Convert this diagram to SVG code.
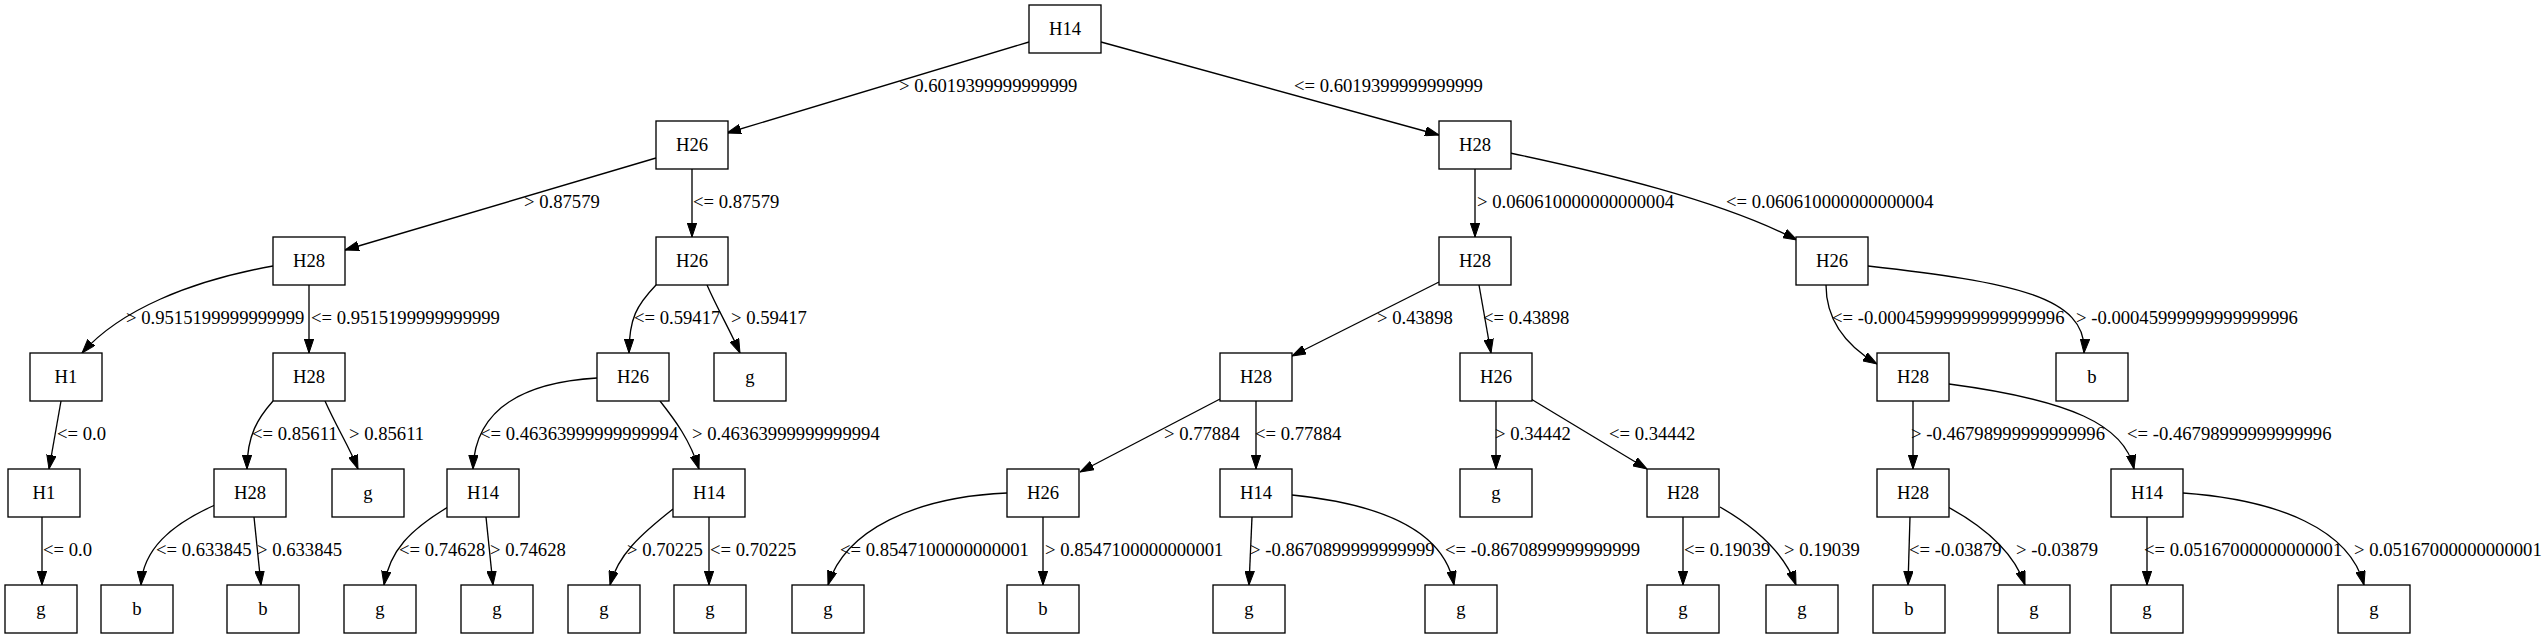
<svg xmlns="http://www.w3.org/2000/svg" width="2543" height="639" viewBox="0 0 2543 639">
<style>
.n rect{fill:#fff;stroke:#000;stroke-width:1.33}
.n text{font-family:"Liberation Serif","Times New Roman",serif;font-size:18.67px;text-anchor:middle;fill:#000}
#edges path{fill:none;stroke:#000;stroke-width:1.33;marker-end:url(#arr)}
#edges text{font-family:"Liberation Serif","Times New Roman",serif;font-size:18.67px;fill:#000}
</style>
<defs>
<marker id="arr" markerUnits="userSpaceOnUse" markerWidth="14" markerHeight="10" refX="14" refY="5" orient="auto" viewBox="0 0 14 10">
<path d="M0,0.3 L14,5 L0,9.7 z" fill="#000" stroke="#000" stroke-width="1"/>
</marker>
</defs>
<rect width="2543" height="639" fill="#fff"/>
<g id="edges">
<path d="M1029,42 L727,133"/><text x="899" y="92">&gt; 0.6019399999999999</text>
<path d="M1101,42 L1439,135"/><text x="1294" y="92">&lt;= 0.6019399999999999</text>
<path d="M656,158 L345,250"/><text x="524" y="208">&gt; 0.87579</text>
<path d="M692,169 L692,237"/><text x="693" y="208">&lt;= 0.87579</text>
<path d="M1475,169 L1475,237"/><text x="1477" y="208">&gt; 0.060610000000000004</text>
<path d="M1510,153 C1600,172 1720,200 1797,240"/><text x="1726" y="208">&lt;= 0.060610000000000004</text>
<path d="M273,266 C190,281 120,310 82,353"/><text x="126" y="324">&gt; 0.9515199999999999</text>
<path d="M309,285 L309,353"/><text x="311" y="324">&lt;= 0.9515199999999999</text>
<path d="M656,285 C637,305 629,318 629,353"/><text x="634" y="324">&lt;= 0.59417</text>
<path d="M707,285 C718,310 730,330 740,353"/><text x="731" y="324">&gt; 0.59417</text>
<path d="M1439,282 L1292,356"/><text x="1377" y="324">&gt; 0.43898</text>
<path d="M1479,285 L1491,353"/><text x="1483" y="324">&lt;= 0.43898</text>
<path d="M1826,285 C1826,320 1845,345 1877,364"/><text x="1832" y="324">&lt;= -0.00045999999999999996</text>
<path d="M1868,266 C2010,282 2088,296 2084,353"/><text x="2076" y="324">&gt; -0.00045999999999999996</text>
<path d="M61,401 L49,469"/><text x="57" y="440">&lt;= 0.0</text>
<path d="M273,401 C258,418 247,435 247,469"/><text x="252" y="440">&lt;= 0.85611</text>
<path d="M325,401 C337,428 350,448 358,469"/><text x="349" y="440">&gt; 0.85611</text>
<path d="M597,378 C530,382 475,405 473,469"/><text x="480" y="440">&lt;= 0.46363999999999994</text>
<path d="M660,401 C675,420 690,440 699,469"/><text x="692" y="440">&gt; 0.46363999999999994</text>
<path d="M1220,399 L1080,472"/><text x="1164" y="440">&gt; 0.77884</text>
<path d="M1256,401 L1256,469"/><text x="1255" y="440">&lt;= 0.77884</text>
<path d="M1496,401 L1496,469"/><text x="1495" y="440">&gt; 0.34442</text>
<path d="M1531,399 L1647,469"/><text x="1609" y="440">&lt;= 0.34442</text>
<path d="M1913,401 L1913,469"/><text x="1911" y="440">&gt; -0.46798999999999996</text>
<path d="M1949,384 C2070,400 2125,425 2134,469"/><text x="2127" y="440">&lt;= -0.46798999999999996</text>
<path d="M42,517 L42,585"/><text x="43" y="556">&lt;= 0.0</text>
<path d="M215,505 C170,525 143,550 141,585"/><text x="156" y="556">&lt;= 0.633845</text>
<path d="M254,517 L261,585"/><text x="257" y="556">&gt; 0.633845</text>
<path d="M448,507 C410,530 390,550 384,585"/><text x="399" y="556">&lt;= 0.74628</text>
<path d="M486,517 L493,585"/><text x="490" y="556">&gt; 0.74628</text>
<path d="M673,509 C640,535 618,555 610,585"/><text x="627" y="556">&gt; 0.70225</text>
<path d="M709,517 L709,585"/><text x="710" y="556">&lt;= 0.70225</text>
<path d="M1007,493 C915,497 845,530 828,585"/><text x="840" y="556">&lt;= 0.8547100000000001</text>
<path d="M1043,517 L1043,585"/><text x="1045" y="556">&gt; 0.8547100000000001</text>
<path d="M1252,517 L1249,585"/><text x="1250" y="556">&gt; -0.8670899999999999</text>
<path d="M1292,495 C1390,505 1445,535 1454,585"/><text x="1445" y="556">&lt;= -0.8670899999999999</text>
<path d="M1683,517 L1683,585"/><text x="1684" y="556">&lt;= 0.19039</text>
<path d="M1720,507 C1760,530 1785,555 1796,585"/><text x="1784" y="556">&gt; 0.19039</text>
<path d="M1910,517 L1908,585"/><text x="1909" y="556">&lt;= -0.03879</text>
<path d="M1948,507 C1990,530 2015,555 2025,585"/><text x="2016" y="556">&gt; -0.03879</text>
<path d="M2147,517 L2147,585"/><text x="2144" y="556">&lt;= 0.05167000000000001</text>
<path d="M2183,493 C2280,500 2350,530 2364,585"/><text x="2354" y="556">&gt; 0.05167000000000001</text>
</g>
<g id="n0" class="n"><rect x="1029" y="5" width="72" height="48"/><text x="1065" y="35">H14</text></g>
<g id="n1" class="n"><rect x="656" y="121" width="72" height="48"/><text x="692" y="151">H26</text></g>
<g id="n2" class="n"><rect x="1439" y="121" width="72" height="48"/><text x="1475" y="151">H28</text></g>
<g id="n3" class="n"><rect x="273" y="237" width="72" height="48"/><text x="309" y="267">H28</text></g>
<g id="n4" class="n"><rect x="656" y="237" width="72" height="48"/><text x="692" y="267">H26</text></g>
<g id="n5" class="n"><rect x="1439" y="237" width="72" height="48"/><text x="1475" y="267">H28</text></g>
<g id="n6" class="n"><rect x="1796" y="237" width="72" height="48"/><text x="1832" y="267">H26</text></g>
<g id="n7" class="n"><rect x="30" y="353" width="72" height="48"/><text x="66" y="383">H1</text></g>
<g id="n8" class="n"><rect x="273" y="353" width="72" height="48"/><text x="309" y="383">H28</text></g>
<g id="n9" class="n"><rect x="597" y="353" width="72" height="48"/><text x="633" y="383">H26</text></g>
<g id="n10" class="n"><rect x="714" y="353" width="72" height="48"/><text x="750" y="383">g</text></g>
<g id="n11" class="n"><rect x="1220" y="353" width="72" height="48"/><text x="1256" y="383">H28</text></g>
<g id="n12" class="n"><rect x="1460" y="353" width="72" height="48"/><text x="1496" y="383">H26</text></g>
<g id="n13" class="n"><rect x="1877" y="353" width="72" height="48"/><text x="1913" y="383">H28</text></g>
<g id="n14" class="n"><rect x="2056" y="353" width="72" height="48"/><text x="2092" y="383">b</text></g>
<g id="n15" class="n"><rect x="8" y="469" width="72" height="48"/><text x="44" y="499">H1</text></g>
<g id="n16" class="n"><rect x="214" y="469" width="72" height="48"/><text x="250" y="499">H28</text></g>
<g id="n17" class="n"><rect x="332" y="469" width="72" height="48"/><text x="368" y="499">g</text></g>
<g id="n18" class="n"><rect x="447" y="469" width="72" height="48"/><text x="483" y="499">H14</text></g>
<g id="n19" class="n"><rect x="673" y="469" width="72" height="48"/><text x="709" y="499">H14</text></g>
<g id="n20" class="n"><rect x="1007" y="469" width="72" height="48"/><text x="1043" y="499">H26</text></g>
<g id="n21" class="n"><rect x="1220" y="469" width="72" height="48"/><text x="1256" y="499">H14</text></g>
<g id="n22" class="n"><rect x="1460" y="469" width="72" height="48"/><text x="1496" y="499">g</text></g>
<g id="n23" class="n"><rect x="1647" y="469" width="72" height="48"/><text x="1683" y="499">H28</text></g>
<g id="n24" class="n"><rect x="1877" y="469" width="72" height="48"/><text x="1913" y="499">H28</text></g>
<g id="n25" class="n"><rect x="2111" y="469" width="72" height="48"/><text x="2147" y="499">H14</text></g>
<g id="n26" class="n"><rect x="5" y="585" width="72" height="48"/><text x="41" y="615">g</text></g>
<g id="n27" class="n"><rect x="101" y="585" width="72" height="48"/><text x="137" y="615">b</text></g>
<g id="n28" class="n"><rect x="227" y="585" width="72" height="48"/><text x="263" y="615">b</text></g>
<g id="n29" class="n"><rect x="344" y="585" width="72" height="48"/><text x="380" y="615">g</text></g>
<g id="n30" class="n"><rect x="461" y="585" width="72" height="48"/><text x="497" y="615">g</text></g>
<g id="n31" class="n"><rect x="568" y="585" width="72" height="48"/><text x="604" y="615">g</text></g>
<g id="n32" class="n"><rect x="674" y="585" width="72" height="48"/><text x="710" y="615">g</text></g>
<g id="n33" class="n"><rect x="792" y="585" width="72" height="48"/><text x="828" y="615">g</text></g>
<g id="n34" class="n"><rect x="1007" y="585" width="72" height="48"/><text x="1043" y="615">b</text></g>
<g id="n35" class="n"><rect x="1213" y="585" width="72" height="48"/><text x="1249" y="615">g</text></g>
<g id="n36" class="n"><rect x="1425" y="585" width="72" height="48"/><text x="1461" y="615">g</text></g>
<g id="n37" class="n"><rect x="1647" y="585" width="72" height="48"/><text x="1683" y="615">g</text></g>
<g id="n38" class="n"><rect x="1766" y="585" width="72" height="48"/><text x="1802" y="615">g</text></g>
<g id="n39" class="n"><rect x="1873" y="585" width="72" height="48"/><text x="1909" y="615">b</text></g>
<g id="n40" class="n"><rect x="1998" y="585" width="72" height="48"/><text x="2034" y="615">g</text></g>
<g id="n41" class="n"><rect x="2111" y="585" width="72" height="48"/><text x="2147" y="615">g</text></g>
<g id="n42" class="n"><rect x="2338" y="585" width="72" height="48"/><text x="2374" y="615">g</text></g>
</svg>
